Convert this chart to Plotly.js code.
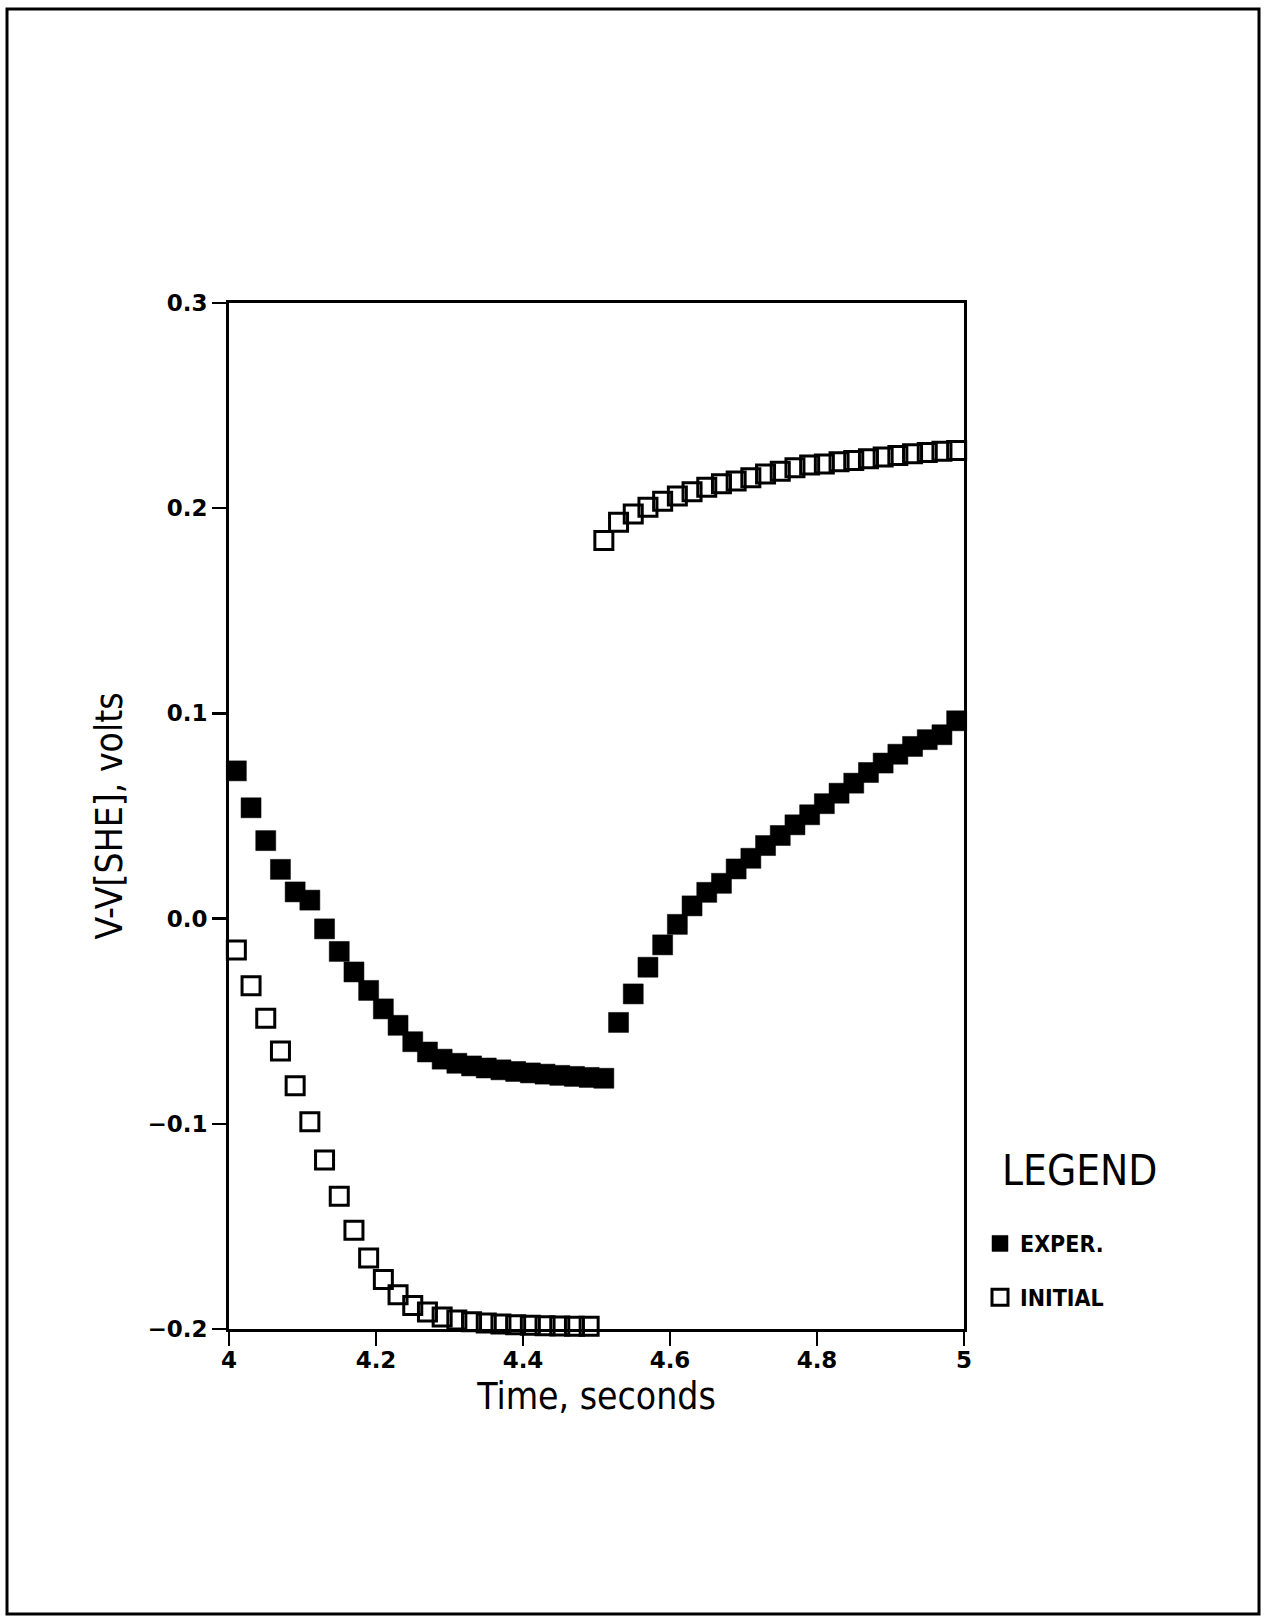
<!DOCTYPE html>
<html>
<head>
<meta charset="utf-8">
<script src="https://cdn.plot.ly/plotly-3.0.1.min.js"></script>
<style>
  html, body { margin: 0; padding: 0; background: #ffffff; }
  #chart { width: 1267px; height: 1617px; }
</style>
</head>
<body>
<div id="chart"></div>
<script>
// ---- data ----
const experTime = [4.01,4.03,4.05,4.07,4.09,4.11,4.13,4.15,4.17,4.19,4.21,4.23,4.25,4.27,4.29,4.31,4.33,4.35,4.37,4.39,4.41,4.43,4.45,4.47,4.49,4.51,
                   4.53,4.55,4.57,4.59,4.61,4.63,4.65,4.67,4.69,4.71,4.73,4.75,4.77,4.79,4.81,4.83,4.85,4.87,4.89,4.91,4.93,4.95,4.97,4.99];
const experV = [0.072,0.054,0.038,0.024,0.013,0.009,-0.005,-0.016,-0.026,-0.035,-0.044,-0.052,-0.060,-0.065,-0.0685,-0.0705,-0.0718,-0.0728,-0.0737,-0.0745,-0.0752,-0.0758,-0.0764,-0.0769,-0.0774,-0.0778,
                -0.0506,-0.0367,-0.0237,-0.0128,-0.0028,0.0062,0.0128,0.0172,0.0242,0.0294,0.0356,0.0405,0.0457,0.0506,0.0560,0.0611,0.0660,0.0712,0.0758,0.0801,0.0839,0.0872,0.0896,0.0964];

const initialTime = [4.01,4.03,4.05,4.07,4.09,4.11,4.13,4.15,4.17,4.19,4.21,4.23,4.25,4.27,4.29,4.31,4.33,4.35,4.37,4.39,4.41,4.43,4.45,4.47,4.49,
                     4.51,4.53,4.55,4.57,4.59,4.61,4.63,4.65,4.67,4.69,4.71,4.73,4.75,4.77,4.79,4.81,4.83,4.85,4.87,4.89,4.91,4.93,4.95,4.97,4.99];
const initialV = [-0.0153,-0.0327,-0.0486,-0.0645,-0.0815,-0.0990,-0.1177,-0.1353,-0.1519,-0.1654,-0.1759,-0.1833,-0.1885,-0.1917,-0.1941,-0.1956,-0.1965,-0.1971,-0.1976,-0.1979,-0.1982,-0.1984,-0.1985,-0.1986,-0.1987,
                  0.1842,0.1932,0.1972,0.2005,0.2034,0.2059,0.2080,0.2102,0.2119,0.2132,0.2148,0.2167,0.2180,0.2197,0.2210,0.2216,0.2226,0.2233,0.2241,0.2249,0.2257,0.2265,0.2272,0.2278,0.2281];

const seriesNames = ['EXPER.', 'INITIAL'];
const legendHeading = 'LEGEND';
const xTickVals = [4, 4.2, 4.4, 4.6, 4.8, 5];
const xTickText = ['4', '4.2', '4.4', '4.6', '4.8', '5'];
const yTickVals = [-0.2, -0.1, 0, 0.1, 0.2, 0.3];
const yTickText = ['\u22120.2', '\u22120.1', '0.0', '0.1', '0.2', '0.3'];

// ---- layout constants ----
const W = 1267, H = 1617;
const M = { l: 229, r: 303, t: 303, b: 288 };
const plotW = W - M.l - M.r, plotH = H - M.t - M.b;
const px2x = p => (p - M.l) / plotW;
const px2y = p => (H - M.b - p) / plotH;

const condensed = '"DejaVu Sans Condensed", "Liberation Sans Narrow", "DejaVu Sans", sans-serif';
const tickFont = { family: '"DejaVu Sans", sans-serif', size: 23, color: '#000', weight: 'bold' };

const traces = [
  {
    x: experTime, y: experV, name: seriesNames[0], type: 'scatter', mode: 'markers',
    legendgroup: 'a', cliponaxis: false,
    marker: { symbol: 'square', size: 20, color: '#000', line: { width: 0.5, color: '#000' } }
  },
  {
    x: initialTime, y: initialV, name: seriesNames[1], type: 'scatter', mode: 'markers',
    legendgroup: 'b', cliponaxis: false,
    marker: { symbol: 'square-open', size: 18, color: '#000', line: { width: 3, color: '#000' } }
  }
];

const layout = {
  width: W, height: H,
  margin: M,
  paper_bgcolor: '#fff', plot_bgcolor: '#fff',
  showlegend: true,
  font: { family: condensed, color: '#000' },
  xaxis: {
    range: [4, 5], tickvals: xTickVals, ticktext: xTickText,
    showgrid: false, zeroline: false,
    showline: true, linecolor: '#000', linewidth: 3, mirror: true,
    ticks: 'outside', ticklen: 14, tickwidth: 2.5, tickcolor: '#000',
    ticklabelstandoff: -6,
    tickfont: tickFont,
    title: { text: 'Time, seconds', font: { family: condensed, size: 37, color: '#000' }, standoff: 12 }
  },
  yaxis: {
    range: [-0.2, 0.3], tickvals: yTickVals, ticktext: yTickText,
    showgrid: false, zeroline: false,
    showline: true, linecolor: '#000', linewidth: 3, mirror: true,
    ticks: 'outside', ticklen: 14, tickwidth: 2.5, tickcolor: '#000',
    tickfont: tickFont,
    title: { text: 'V-V[SHE], volts', font: { family: condensed, size: 37, color: '#000' }, standoff: 14 }
  },
  legend: {
    x: px2x(980), y: px2y(1222), xanchor: 'left', yanchor: 'top',
    bgcolor: 'rgba(0,0,0,0)', borderwidth: 0,
    traceorder: 'grouped', tracegroupgap: 21,
    font: { family: '"DejaVu Sans Condensed", "DejaVu Sans", sans-serif', size: 23, color: '#000', weight: 'bold' },
    itemclick: false, itemdoubleclick: false
  },
  annotations: [
    { text: legendHeading, xref: 'paper', yref: 'paper', x: px2x(1000), y: px2y(1170),
      xanchor: 'left', yanchor: 'middle', showarrow: false,
      font: { family: condensed, size: 42, color: '#000' } }
  ],
  shapes: [
    { type: 'rect', xref: 'paper', yref: 'paper',
      x0: px2x(7), x1: px2x(1259), y0: px2y(1614), y1: px2y(9),
      line: { color: '#000', width: 3 }, fillcolor: 'rgba(0,0,0,0)' }
  ]
};

Plotly.newPlot('chart', traces, layout, { displayModeBar: false, staticPlot: true });
</script>
</body>
</html>
